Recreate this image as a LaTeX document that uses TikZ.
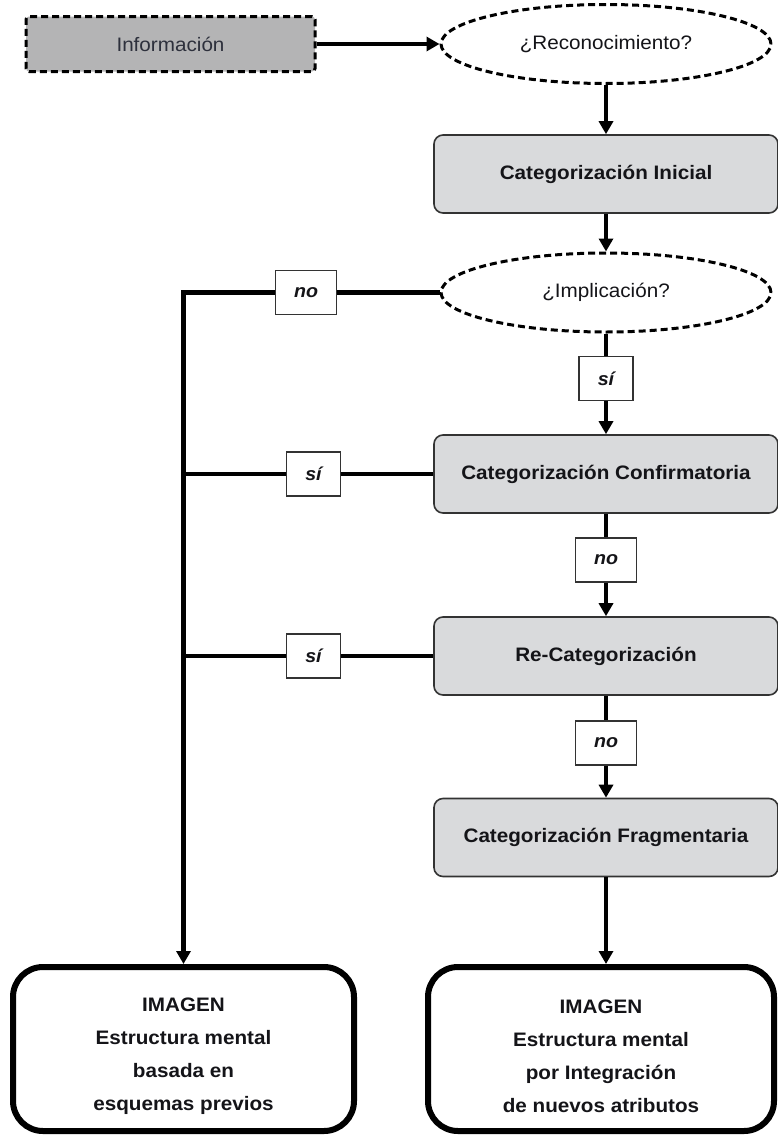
\documentclass[tikz,border=0pt]{standalone}
\usepackage{fontspec}
\setmainfont{Liberation Sans}[FakeStretch=1.06]
\usetikzlibrary{arrows.meta,shapes.geometric}
\definecolor{infogray}{RGB}{180,180,181}
\definecolor{boxgray}{RGB}{217,218,220}
\definecolor{txt}{RGB}{20,20,24}
\definecolor{infotxt}{RGB}{45,48,60}
\begin{document}
\begin{tikzpicture}[x=1pt,y=-1pt,
 base/.style={font=\fontsize{19.5}{23}\selectfont, text=txt},
 conn/.style={line width=4.5pt, draw=black, line join=miter},
 arr/.style={-{Triangle[length=13pt,width=14pt]}},
 dashedline/.style={line width=3pt, dash pattern=on 7pt off 4pt},
 infobox/.style={base, text=infotxt, rectangle, rounded corners=3pt, draw, dashedline, fill=infogray, minimum width=289pt, minimum height=55pt},
 question/.style={base, ellipse, draw, dashedline, fill=white, minimum width=330pt, minimum height=79pt, inner sep=0pt},
 catbox/.style={base, font=\fontsize{19.5}{23}\selectfont\bfseries, rectangle, rounded corners=9pt, draw=black!80, line width=1.6pt, fill=boxgray, minimum width=344pt, minimum height=78pt},
 lab/.style={font=\fontsize{18.5}{21}\selectfont\bfseries\itshape, text=txt, draw=black!80, line width=1.4pt, fill=white, minimum width=54pt, minimum height=44pt, inner sep=0pt},
 imgbox/.style={base, font=\fontsize{19.5}{33}\selectfont\bfseries, align=center, rectangle, rounded corners=30pt, draw=black, line width=6pt, minimum height=164pt}
]
\useasboundingbox (0,0) rectangle (777,1135);

% main column
\node[infobox] (info) at (170.5,44) {Información};
\node[question] (reco) at (606,44) {¿Reconocimiento?};
\node[catbox] (ini) at (606,174) {Categorización Inicial};
\node[question] (impl) at (606,292.5) {¿Implicación?};
\node[lab] (s1) at (606,378.5) {sí};
\node[catbox] (conf) at (606,474) {Categorización Confirmatoria};
\node[lab, minimum width=61pt] (n2) at (606,560) {no};
\node[catbox] (recat) at (606,656) {Re-Categorización};
\node[lab, minimum width=61pt] (n3) at (606,743) {no};
\node[catbox] (frag) at (606,837.5) {Categorización Fragmentaria};

% left branch
\node[lab, minimum width=61pt] (n1) at (306,292.5) {no};
\node[lab] (s2) at (313.5,474) {sí};
\node[lab] (s3) at (313.5,656) {sí};

% result boxes
\node[imgbox, minimum width=341pt] (limg) at (183.5,1049) {\rule{0pt}{28pt}IMAGEN\\Estructura mental\\basada en\\esquemas previos};
\node[imgbox, minimum width=346pt] (rimg) at (601,1049) {\rule{0pt}{28pt}IMAGEN\\Estructura mental\\por Integración\\de nuevos atributos};

\coordinate (j1) at (183.5,474);
\coordinate (j2) at (183.5,656);

% connectors
\draw[conn,arr] (info.east) -- (reco.west);
\draw[conn,arr] (reco) -- (ini);
\draw[conn,arr] (ini) -- (impl);
\draw[conn] (impl) -- (s1);
\draw[conn,arr] (s1) -- (conf);
\draw[conn] (conf) -- (n2);
\draw[conn,arr] (n2) -- (recat);
\draw[conn] (recat) -- (n3);
\draw[conn,arr] (n3) -- (frag);
\draw[conn,arr] (frag.south) -- (frag.south |- rimg.north);

\draw[conn] (impl.west) -- (n1.east);
\draw[conn,arr] (n1.west) -| (limg.north);
\draw[conn] (conf.west) -- (s2.east);
\draw[conn] (s2.west) -- (j1);
\draw[conn] (recat.west) -- (s3.east);
\draw[conn] (s3.west) -- (j2);
\end{tikzpicture}
\end{document}
